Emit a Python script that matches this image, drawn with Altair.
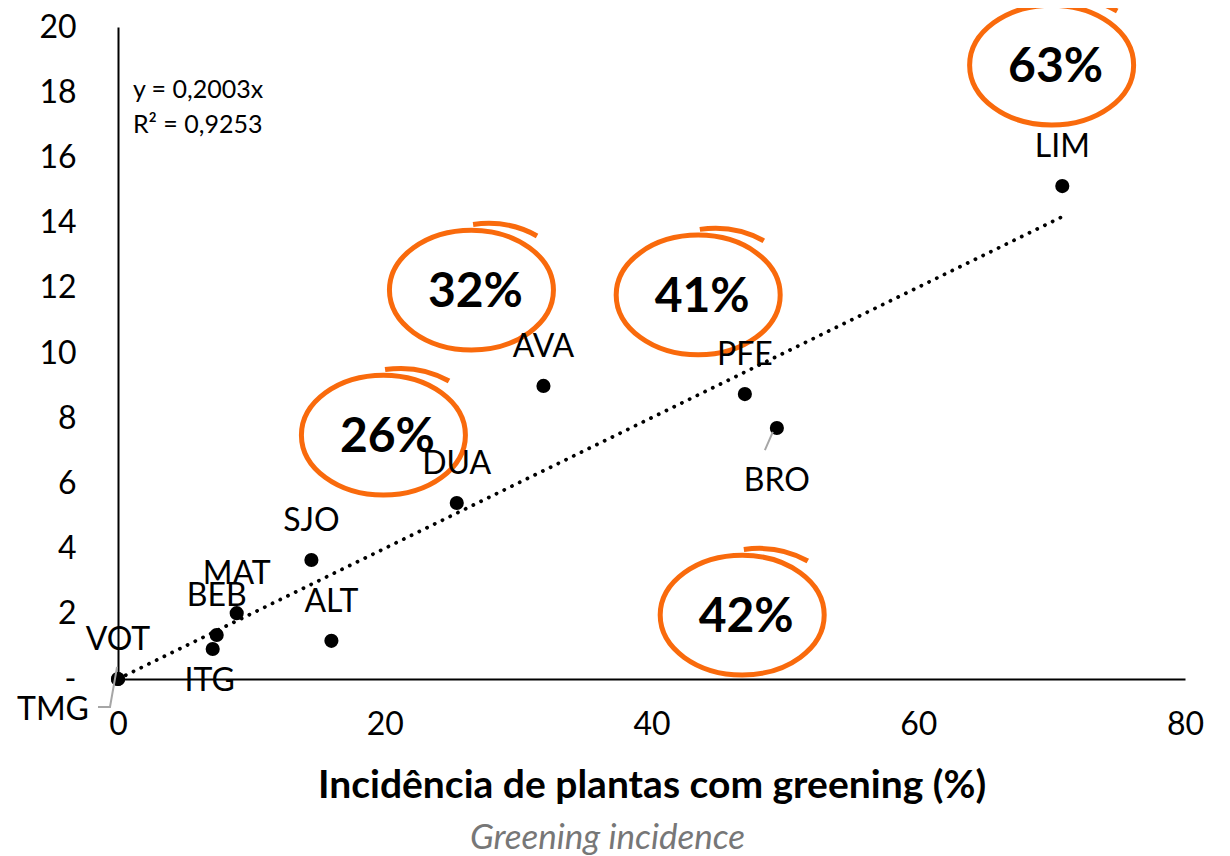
import altair as alt
import pandas as pd

# ---- data ----
codes = ["TMG", "VOT", "ITG", "BEB", "MAT", "SJO", "ALT", "DUA", "AVA", "PFE", "BRO", "LIM"]
incidence = [0.0, 0.0, 7.1, 7.4, 8.9, 14.5, 16.0, 25.4, 31.9, 47.0, 49.4, 70.8]
loss = [0.0, 0.0, 0.92, 1.35, 2.02, 3.65, 1.17, 5.40, 8.99, 8.74, 7.70, 15.12]
placement = ["tmg", "above", "below", "above", "above", "above", "above", "above",
             "above", "above", "below2", "above"]

slope = 0.2003
r2 = "0,9253"

pct_labels = ["63%", "32%", "41%", "26%", "42%"]
pct_x = [70.0, 26.5, 43.5, 19.9, 46.8]
pct_y = [18.83, 11.93, 11.78, 7.48, 1.96]

# leader lines (data units)
leader_group = ["TMG", "TMG", "TMG", "BRO", "BRO"]
leader_x = [-1.5, -0.6, -0.07, 49.1, 48.5]
leader_y = [-0.86, -0.86, 0.37, 7.58, 7.02]

x_ticks = [0, 20, 40, 60, 80]
y_ticks = [0, 2, 4, 6, 8, 10, 12, 14, 16, 18, 20]

x_title = "Incidência de plantas com greening (%)"
x_subtitle = "Greening incidence"
eq_lines = ["y = 0,2003x", "R² = " + r2]

FONT = "Lato"
ORANGE = "#F96A0C"

pts = pd.DataFrame({"code": codes, "x": incidence, "y": loss, "place": placement})
trend = pd.DataFrame({"x": [0.0, max(incidence)]})
pcts = pd.DataFrame({"label": pct_labels, "x": pct_x, "y": pct_y})
leaders = pd.DataFrame({"g": leader_group, "x": leader_x, "y": leader_y})
eq = pd.DataFrame({"t": eq_lines, "x": [1.12, 1.12], "y": [18.07, 17.0]})
sub = pd.DataFrame({"t": [x_subtitle], "x": [36.7], "y": [-4.88]})

xs = alt.Scale(domain=[0, 80], nice=False, zero=False)
ys = alt.Scale(domain=[0, 20], nice=False, zero=False)

X = alt.X("x:Q", scale=xs, axis=alt.Axis(
    values=x_ticks, title=x_title, grid=False, ticks=False, labelFlush=False,
    domainColor="black", domainWidth=2, labelFont=FONT, labelFontSize=32,
    labelColor="black", labelPadding=30, titleFont=FONT, titleFontSize=39,
    titleFontWeight="bold", titleColor="black", titlePadding=26))
Y = alt.Y("y:Q", scale=ys, axis=alt.Axis(
    values=y_ticks, title=None, grid=False, ticks=False, labelFlush=False,
    domainColor="black", domainWidth=2, labelFont=FONT, labelFontSize=32,
    labelColor="black", labelPadding=42,
    labelExpr="datum.value == 0 ? '-' : datum.label"))
Xp = alt.X("x:Q", scale=xs)
Yp = alt.Y("y:Q", scale=ys)

trend_line = alt.Chart(trend).transform_calculate(
    y=f"{slope} * datum.x"
).mark_line(color="black", strokeWidth=3.8, strokeDash=[0.1, 8.5],
            strokeCap="round").encode(x=X, y=Y)

dots = alt.Chart(pts).mark_point(filled=True, color="black", size=200,
                                  opacity=1).encode(x=Xp, y=Yp)

def labels(place, dx, dy):
    return alt.Chart(pts).transform_filter(
        alt.datum.place == place
    ).mark_text(font=FONT, fontSize=32, color="black", dx=dx, dy=dy,
                baseline="middle", clip=False).encode(x=Xp, y=Yp, text="code:N")

lab_above = labels("above", 0, -39)
lab_below = labels("below", -3, 32)
lab_below2 = labels("below2", 0, 53)
lab_tmg = labels("tmg", -65, 31)

leader_lines = alt.Chart(leaders).mark_line(
    color="#A6A6A6", strokeWidth=2, clip=False
).encode(x=Xp, y=Yp, detail="g:N")

ellipse = ("M -1 0 A 1 0.73 0 1 1 1 0 A 1 0.73 0 1 1 -1 0 "
           "M 0.02 -0.80 Q 0.45 -0.86 0.80 -0.66")
rings = alt.Chart(pcts).mark_point(
    shape=ellipse, filled=False, stroke=ORANGE, strokeWidth=5, size=26896,
    opacity=1, clip=False
).encode(x=Xp, y=Yp)
pct_text = alt.Chart(pcts).mark_text(
    font=FONT, fontSize=48, fontWeight="bold", color="black", dx=4, dy=3,
    baseline="middle"
).encode(x=Xp, y=Yp, text="label:N")

eq_text = alt.Chart(eq).mark_text(
    font=FONT, fontSize=25, color="black", align="left", baseline="middle"
).encode(x=Xp, y=Yp, text="t:N")

sub_text = alt.Chart(sub).mark_text(
    font=FONT, fontSize=35, fontStyle="italic", color="#777777",
    baseline="middle", clip=False
).encode(x=Xp, y=Yp, text="t:N")

chart = alt.layer(
    trend_line, rings, pct_text, dots, leader_lines,
    lab_above, lab_below, lab_below2, lab_tmg, eq_text, sub_text
).properties(
    width=1067, height=652,
    padding={"left": 110, "top": 19, "right": 37, "bottom": 177},
    autosize=alt.AutoSizeParams(type="none"),
).configure_view(stroke=None)

chart.save("out.html", embed_options={"renderer": "svg", "actions": False})
